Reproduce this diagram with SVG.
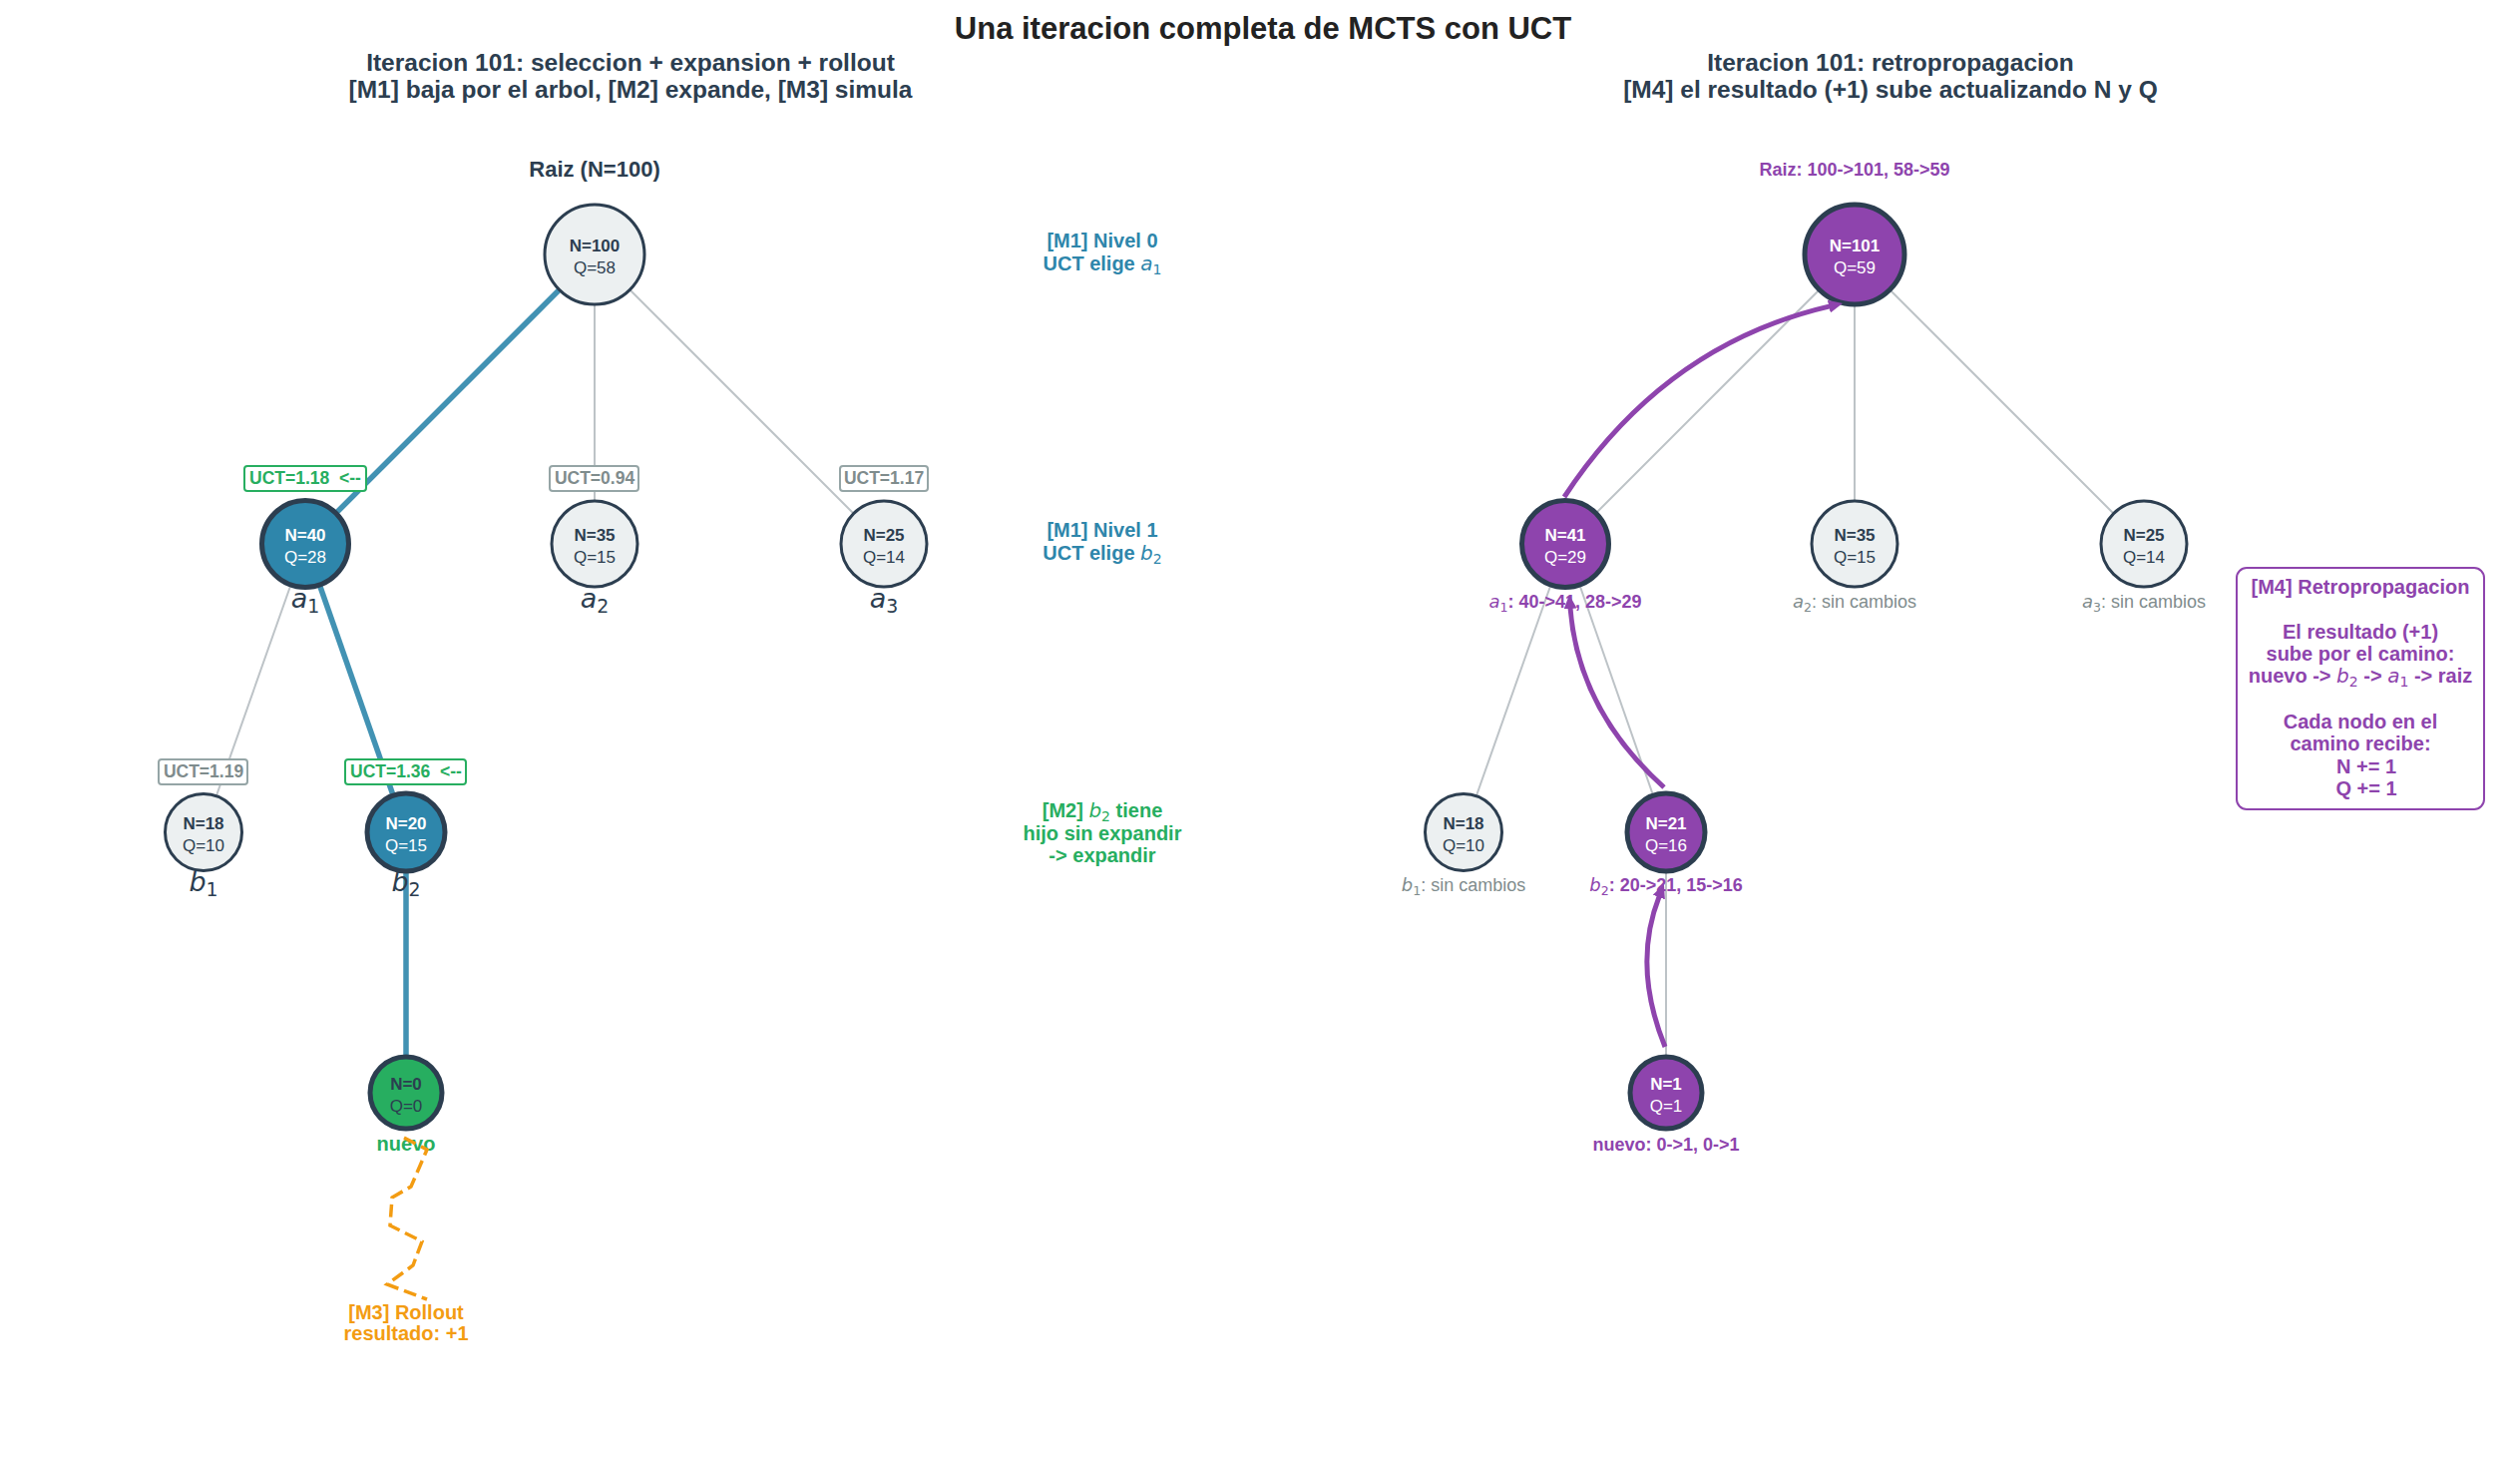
<svg xmlns="http://www.w3.org/2000/svg" width="2526" height="1460" viewBox="0 0 2526 1460">
<style>
text { font-family: "Liberation Sans", Arial, sans-serif; text-anchor: middle; }
.title { font-size: 31px; font-weight: bold; fill: #222222; }
.sub { font-size: 24.5px; font-weight: bold; fill: #2c3e50; }
.nd { stroke: #2c3e50; stroke-width: 3; }
.nd.hl { stroke-width: 5; }
.light { fill: #ecf0f1; }
.teal { fill: #2e86ab; }
.green { fill: #27ae60; }
.purple { fill: #8e44ad; }
.nN { font-size: 17px; font-weight: bold; }
.nQ { font-size: 17px; }
.dk { fill: #2c3e50; }
.wt { fill: #ffffff; }
.mi { font-family: "DejaVu Sans", sans-serif; font-style: italic; font-weight: normal; }
.sb { font-family: "DejaVu Sans", sans-serif; font-style: normal; font-weight: normal; font-size: 70%; }
.mlab { font-size: 27px; fill: #2c3e50; }
.ann { font-size: 20px; font-weight: bold; }
.cteal { fill: #2e86ab; }
.cgreen { fill: #27ae60; }
.corange { fill: #f39c12; }
.cpurple { fill: #8e44ad; }
.cgray { fill: #7f8c8d; }
.lab { font-size: 18px; }
.b { font-weight: bold; }
.uct { font-size: 17.5px; font-weight: bold; }
.ubox { fill: #ffffff; stroke-width: 2; }
.ug { stroke: #27ae60; }
.ugr { stroke: #95a5a6; }
.eg { stroke: #bdc3c7; stroke-width: 2; fill: none; }
.et { stroke: #2e86ab; stroke-width: 5.5; stroke-opacity: 0.9; fill: none; }
.arr { stroke: #8e44ad; stroke-width: 5; fill: none; marker-end: url(#ah); }
.roll { stroke: #f39c12; stroke-width: 3.5; fill: none; stroke-dasharray: 13 6; }
</style>
<defs>
<marker id="ah" markerUnits="userSpaceOnUse" viewBox="0 0 14 13" markerWidth="14" markerHeight="13" refX="1" refY="6.5" orient="auto">
<path d="M0,0 L14,6.5 L0,13 z" fill="#8e44ad"/>
</marker>
</defs>
<rect width="2526" height="1460" fill="#ffffff"/>

<g id="titles">
<text class="title" x="1266" y="39">Una iteracion completa de MCTS con UCT</text>
<text class="sub" x="632" y="71">Iteracion 101: seleccion + expansion + rollout</text>
<text class="sub" x="632" y="98">[M1] baja por el arbol, [M2] expande, [M3] simula</text>
<text class="sub" x="1895" y="71">Iteracion 101: retropropagacion</text>
<text class="sub" x="1895" y="98">[M4] el resultado (+1) sube actualizando N y Q</text>
</g>

<g id="connectors">
<line class="et" x1="596" y1="255" x2="306" y2="545"/>
<line class="eg" x1="596" y1="255" x2="596" y2="545"/>
<line class="eg" x1="596" y1="255" x2="886" y2="545"/>
<line class="eg" x1="306" y1="545" x2="204" y2="834"/>
<line class="et" x1="306" y1="545" x2="407" y2="834"/>
<line class="et" x1="407" y1="834" x2="407" y2="1095"/>
<line class="eg" x1="1859" y1="255" x2="1569" y2="545"/>
<line class="eg" x1="1859" y1="255" x2="1859" y2="545"/>
<line class="eg" x1="1859" y1="255" x2="2149" y2="545"/>
<line class="eg" x1="1569" y1="545" x2="1467" y2="834"/>
<line class="eg" x1="1569" y1="545" x2="1670" y2="834"/>
<line class="eg" x1="1670" y1="834" x2="1670" y2="1095"/>
</g>

<g id="uct-labels">
<rect class="ubox ug" x="245" y="467" width="122" height="25" rx="3"/>
<text class="uct cgreen" x="306" y="485" xml:space="preserve">UCT=1.18  &lt;--</text>
<rect class="ubox ugr" x="551" y="467" width="89" height="25" rx="3"/>
<text class="uct cgray" x="596" y="485">UCT=0.94</text>
<rect class="ubox ugr" x="842" y="467" width="88" height="25" rx="3"/>
<text class="uct cgray" x="886" y="485">UCT=1.17</text>
<rect class="ubox ugr" x="159" y="761" width="89" height="25" rx="3"/>
<text class="uct cgray" x="204" y="779">UCT=1.19</text>
<rect class="ubox ug" x="346" y="761" width="121" height="25" rx="3"/>
<text class="uct cgreen" x="407" y="779" xml:space="preserve">UCT=1.36  &lt;--</text>
</g>

<g id="L-root">
<text class="b dk" style="font-size:22px" x="596" y="177">Raiz (N=100)</text>
<circle class="nd light" cx="596" cy="255" r="50"/>
<text class="nN dk" x="596" y="252">N=100</text>
<text class="nQ dk" x="596" y="274">Q=58</text>
</g>
<g id="L-a1">
<circle class="nd hl teal" cx="306" cy="545" r="43.5"/>
<text class="nN wt" x="306" y="542">N=40</text>
<text class="nQ wt" x="306" y="564">Q=28</text>
<text class="mlab" x="306" y="609"><tspan class="mi">a</tspan><tspan class="sb" dy="5">1</tspan></text>
</g>
<g id="L-a2">
<circle class="nd light" cx="596" cy="545" r="43"/>
<text class="nN dk" x="596" y="542">N=35</text>
<text class="nQ dk" x="596" y="564">Q=15</text>
<text class="mlab" x="596" y="609"><tspan class="mi">a</tspan><tspan class="sb" dy="5">2</tspan></text>
</g>
<g id="L-a3">
<circle class="nd light" cx="886" cy="545" r="43"/>
<text class="nN dk" x="886" y="542">N=25</text>
<text class="nQ dk" x="886" y="564">Q=14</text>
<text class="mlab" x="886" y="609"><tspan class="mi">a</tspan><tspan class="sb" dy="5">3</tspan></text>
</g>
<g id="L-b1">
<circle class="nd light" cx="204" cy="834" r="38.5"/>
<text class="nN dk" x="204" y="831">N=18</text>
<text class="nQ dk" x="204" y="853">Q=10</text>
<text class="mlab" x="204" y="893"><tspan class="mi">b</tspan><tspan class="sb" dy="5">1</tspan></text>
</g>
<g id="L-b2">
<circle class="nd hl teal" cx="407" cy="834" r="39"/>
<text class="nN wt" x="407" y="831">N=20</text>
<text class="nQ wt" x="407" y="853">Q=15</text>
<text class="mlab" x="407" y="893"><tspan class="mi">b</tspan><tspan class="sb" dy="5">2</tspan></text>
</g>
<g id="L-new">
<circle class="nd hl green" cx="407" cy="1095" r="36"/>
<text class="nN dk" x="407" y="1092">N=0</text>
<text class="nQ dk" x="407" y="1114">Q=0</text>
<text class="ann cgreen" x="407" y="1153">nuevo</text>
</g>

<g id="rollout">
<polyline class="roll" points="405,1140 428,1152 412,1189 393,1200 391,1228 423,1244 414,1268 388,1287 428,1302"/>
<text class="ann corange" x="407" y="1322">[M3] Rollout</text>
<text class="ann corange" x="407" y="1343">resultado: +1</text>
</g>

<g id="annotations-left">
<text class="ann cteal" x="1105" y="248">[M1] Nivel 0</text>
<text class="ann cteal" x="1105" y="271">UCT elige <tspan class="mi">a</tspan><tspan class="sb" dy="4">1</tspan></text>
<text class="ann cteal" x="1105" y="538">[M1] Nivel 1</text>
<text class="ann cteal" x="1105" y="561">UCT elige <tspan class="mi">b</tspan><tspan class="sb" dy="4">2</tspan></text>
<text class="ann cgreen" x="1105" y="819">[M2] <tspan class="mi">b</tspan><tspan class="sb" dy="4">2</tspan><tspan dy="-4"> tiene</tspan></text>
<text class="ann cgreen" x="1105" y="842">hijo sin expandir</text>
<text class="ann cgreen" x="1105" y="864">-&gt; expandir</text>
</g>

<g id="R-root">
<text class="lab b cpurple" x="1859" y="176">Raiz: 100-&gt;101, 58-&gt;59</text>
<circle class="nd hl purple" cx="1859" cy="255" r="50"/>
<text class="nN wt" x="1859" y="252">N=101</text>
<text class="nQ wt" x="1859" y="274">Q=59</text>
</g>
<g id="R-a1">
<circle class="nd hl purple" cx="1569" cy="545" r="43.5"/>
<text class="nN wt" x="1569" y="542">N=41</text>
<text class="nQ wt" x="1569" y="564">Q=29</text>
<text class="lab b cpurple" x="1569" y="609"><tspan class="mi">a</tspan><tspan class="sb" dy="4">1</tspan><tspan dy="-4">: 40-&gt;41, 28-&gt;29</tspan></text>
</g>
<g id="R-a2">
<circle class="nd light" cx="1859" cy="545" r="43"/>
<text class="nN dk" x="1859" y="542">N=35</text>
<text class="nQ dk" x="1859" y="564">Q=15</text>
<text class="lab cgray" x="1859" y="609"><tspan class="mi">a</tspan><tspan class="sb" dy="4">2</tspan><tspan dy="-4">: sin cambios</tspan></text>
</g>
<g id="R-a3">
<circle class="nd light" cx="2149" cy="545" r="43"/>
<text class="nN dk" x="2149" y="542">N=25</text>
<text class="nQ dk" x="2149" y="564">Q=14</text>
<text class="lab cgray" x="2149" y="609"><tspan class="mi">a</tspan><tspan class="sb" dy="4">3</tspan><tspan dy="-4">: sin cambios</tspan></text>
</g>
<g id="R-b1">
<circle class="nd light" cx="1467" cy="834" r="38.5"/>
<text class="nN dk" x="1467" y="831">N=18</text>
<text class="nQ dk" x="1467" y="853">Q=10</text>
<text class="lab cgray" x="1467" y="893"><tspan class="mi">b</tspan><tspan class="sb" dy="4">1</tspan><tspan dy="-4">: sin cambios</tspan></text>
</g>
<g id="R-b2">
<circle class="nd hl purple" cx="1670" cy="834" r="39"/>
<text class="nN wt" x="1670" y="831">N=21</text>
<text class="nQ wt" x="1670" y="853">Q=16</text>
<text class="lab b cpurple" x="1670" y="893"><tspan class="mi">b</tspan><tspan class="sb" dy="4">2</tspan><tspan dy="-4">: 20-&gt;21, 15-&gt;16</tspan></text>
</g>
<g id="R-new">
<circle class="nd hl purple" cx="1670" cy="1095" r="36"/>
<text class="nN wt" x="1670" y="1092">N=1</text>
<text class="nQ wt" x="1670" y="1114">Q=1</text>
<text class="lab b cpurple" x="1670" y="1153">nuevo: 0-&gt;1, 0-&gt;1</text>
</g>

<g id="backprop-arrows">
<path class="arr" d="M1568,498 Q1668.7,345.2 1834.3,306.9"/>
<path class="arr" d="M1668,789 Q1581.9,711.5 1574,609"/>
<path class="arr" d="M1669,1049 Q1635.9,967.7 1663.2,898.1"/>
</g>

<g id="legend-box">
<rect x="2242" y="569" width="248" height="242" rx="10" fill="#ffffff" stroke="#8e44ad" stroke-width="2"/>
<text class="ann cpurple" x="2366" y="595">[M4] Retropropagacion</text>
<text class="ann cpurple" x="2366" y="640">El resultado (+1)</text>
<text class="ann cpurple" x="2366" y="662">sube por el camino:</text>
<text class="ann cpurple" x="2366" y="684">nuevo -&gt; <tspan class="mi">b</tspan><tspan class="sb" dy="4">2</tspan><tspan dy="-4"> -&gt; </tspan><tspan class="mi">a</tspan><tspan class="sb" dy="4">1</tspan><tspan dy="-4"> -&gt; raiz</tspan></text>
<text class="ann cpurple" x="2366" y="730">Cada nodo en el</text>
<text class="ann cpurple" x="2366" y="752">camino recibe:</text>
<text class="ann cpurple" x="2372" y="775">N += 1</text>
<text class="ann cpurple" x="2372" y="797">Q += 1</text>
</g>
</svg>
